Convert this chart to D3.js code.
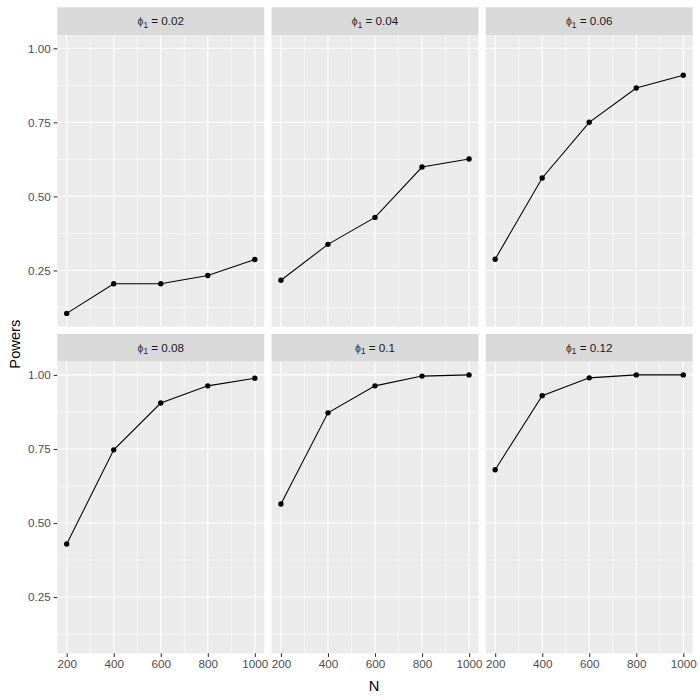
<!DOCTYPE html>
<html>
<head>
<meta charset="utf-8">
<script src="https://cdn.jsdelivr.net/npm/d3@7/dist/d3.min.js"></script>
<style>
  html, body { margin: 0; padding: 0; background: #ffffff; }
  svg { display: block; font-family: "Liberation Sans", Arial, sans-serif; }
</style>
</head>
<body>
<svg id="chart" width="700" height="700"></svg>
<script>
// ---- data ----
const sampleSizes = [200, 400, 600, 800, 1000];
const phiLabels = ["0.02", "0.04", "0.06", "0.08", "0.1", "0.12"];
const power002 = [0.105, 0.205, 0.205, 0.233, 0.287];
const power004 = [0.217, 0.338, 0.429, 0.599, 0.626];
const power006 = [0.288, 0.562, 0.750, 0.866, 0.909];
const power008 = [0.429, 0.747, 0.905, 0.963, 0.989];
const power010 = [0.564, 0.872, 0.963, 0.996, 1.000];
const power012 = [0.680, 0.930, 0.990, 1.000, 1.000];
const xTicks = [200, 400, 600, 800, 1000];
const xMinorTicks = [300, 500, 700, 900];
const yTicks = [0.25, 0.50, 0.75, 1.00];
const yMinorTicks = [0.125, 0.375, 0.625, 0.875];

const series = [power002, power004, power006, power008, power010, power012];

// ---- layout ----
const svg = d3.select("#chart");
const leftX = 57.3, rightX = 692.7, topY = 7.3, bottomY = 653.3;
const gap = 7.3, stripH = 27.7;
const ncol = 3, nrow = 2;
const pw = (rightX - leftX - gap * (ncol - 1)) / ncol;
const ph = (bottomY - topY - gap * (nrow - 1) - stripH * nrow) / nrow;

// scales (shared across facets, ggplot-style 5% expansion)
const allVals = series.flat();
const yMin = d3.min(allVals), yMax = d3.max(allVals);
const yPad = (yMax - yMin) * 0.05;
const xPad = (1000 - 200) * 0.05;
const x = d3.scaleLinear().domain([200 - xPad, 1000 + xPad]).range([0, pw]);
const y = d3.scaleLinear().domain([yMin - yPad, yMax + yPad]).range([ph, 0]);

const fmtY = d3.format(".2f");

series.forEach((vals, i) => {
  const col = i % ncol, row = Math.floor(i / ncol);
  const px = leftX + col * (pw + gap);
  const stripY = topY + row * (stripH + ph + gap);
  const py = stripY + stripH;

  // strip
  svg.append("rect").attr("x", px).attr("y", stripY).attr("width", pw).attr("height", stripH)
    .attr("fill", "#D9D9D9");
  const st = svg.append("text")
    .attr("x", px + pw / 2).attr("y", stripY + stripH / 2 + 4.2)
    .attr("text-anchor", "middle").attr("fill", "#1A1A1A").attr("font-size", 11.7);
  st.append("tspan").attr("font-size", 10.5).attr("fill", "#333").text("ϕ");
  st.append("tspan").attr("font-size", 8.2).attr("dy", 2.3).text("1");
  st.append("tspan").attr("dy", -2.3).text(" = " + phiLabels[i]);

  const g = svg.append("g").attr("transform", `translate(${px},${py})`);
  g.append("rect").attr("width", pw).attr("height", ph).attr("fill", "#EBEBEB");

  // minor grid
  g.selectAll(".xminor").data(xMinorTicks).enter().append("line")
    .attr("x1", d => x(d)).attr("x2", d => x(d)).attr("y1", 0).attr("y2", ph)
    .attr("stroke", "#fff").attr("stroke-width", 0.53);
  g.selectAll(".yminor").data(yMinorTicks).enter().append("line")
    .attr("y1", d => y(d)).attr("y2", d => y(d)).attr("x1", 0).attr("x2", pw)
    .attr("stroke", "#fff").attr("stroke-width", 0.53);
  // major grid
  g.selectAll(".xmajor").data(xTicks).enter().append("line")
    .attr("x1", d => x(d)).attr("x2", d => x(d)).attr("y1", 0).attr("y2", ph)
    .attr("stroke", "#fff").attr("stroke-width", 1.07);
  g.selectAll(".ymajor").data(yTicks).enter().append("line")
    .attr("y1", d => y(d)).attr("y2", d => y(d)).attr("x1", 0).attr("x2", pw)
    .attr("stroke", "#fff").attr("stroke-width", 1.07);

  const pts = sampleSizes.map((n, k) => [n, vals[k]]);
  g.append("path").datum(pts)
    .attr("d", d3.line().x(d => x(d[0])).y(d => y(d[1])))
    .attr("fill", "none").attr("stroke", "#000").attr("stroke-width", 1.07);
  g.selectAll(".pt").data(pts).enter().append("circle")
    .attr("cx", d => x(d[0])).attr("cy", d => y(d[1])).attr("r", 2.7).attr("fill", "#000");

  // y axis on left column
  if (col === 0) {
    const ya = g.append("g").call(d3.axisLeft(y).tickValues(yTicks).tickFormat(fmtY)
      .tickSize(3.67).tickPadding(2.9));
    ya.select(".domain").remove();
    ya.selectAll(".tick line").attr("stroke", "#333").attr("stroke-width", 1.07);
    ya.selectAll(".tick text").attr("fill", "#4D4D4D").attr("font-size", 11.7)
      .attr("font-family", "Liberation Sans, Arial, sans-serif");
  }
  // x axis on bottom row
  if (row === nrow - 1) {
    const xa = g.append("g").attr("transform", `translate(0,${ph})`)
      .call(d3.axisBottom(x).tickValues(xTicks).tickFormat(d3.format("d"))
        .tickSize(3.67).tickPadding(2.9));
    xa.select(".domain").remove();
    xa.selectAll(".tick line").attr("stroke", "#333").attr("stroke-width", 1.07);
    xa.selectAll(".tick text").attr("fill", "#4D4D4D").attr("font-size", 11.7)
      .attr("font-family", "Liberation Sans, Arial, sans-serif");
  }
});

// axis titles
const panelTop = topY + stripH;
svg.append("text")
  .attr("transform", `translate(19.5,${(panelTop + bottomY) / 2}) rotate(-90)`)
  .attr("text-anchor", "middle").attr("font-size", 14.7).attr("fill", "#000")
  .text("Powers");
svg.append("text")
  .attr("x", (leftX + rightX) / 2 - 1).attr("y", 690.5)
  .attr("text-anchor", "middle").attr("font-size", 14.7).attr("fill", "#000")
  .text("N");
</script>
</body>
</html>
